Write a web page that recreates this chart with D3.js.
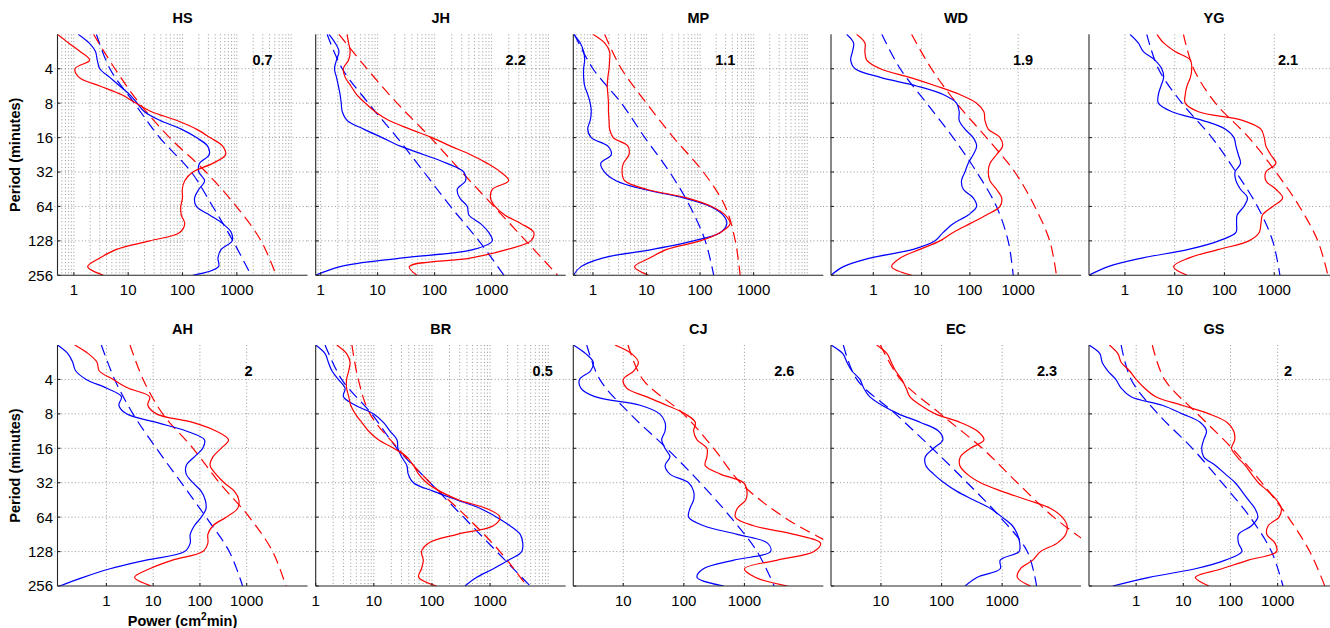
<!DOCTYPE html>
<html>
<head>
<meta charset="utf-8">
<script src="https://cdn.jsdelivr.net/npm/d3@7/dist/d3.min.js"></script>
<style>
  body { margin: 0; background: #fff; }
  svg text { font-family: "Liberation Sans", Arial, Helvetica, sans-serif; fill: #000; }
</style>
</head>
<body>
<svg id="fig" width="1330" height="628"></svg>
<script>
// Station codes, in panel order (top row, then bottom row)
const stations = ["HS", "JH", "MP", "WD", "YG", "AH", "BR", "CJ", "EC", "GS"];
// Number printed in the corner of each panel
const exponents = ["0.7", "2.2", "1.1", "1.9", "2.1", "2", "0.5", "2.6", "2.3", "2"];

// Period grid (minutes) of the measured spectra, quarter-octave spacing
const periods = [2, 2.38, 2.83, 3.36, 4, 4.76, 5.66, 6.73, 8, 9.51, 11.3, 13.5, 16, 19, 22.6, 26.9,
                 32, 38.1, 45.3, 53.8, 64, 76.1, 90.5, 108, 128, 152, 181, 215, 256];
// Period grid of the fitted (dashed) spectra
const fitPeriods = [2, 4, 8, 16, 32, 64, 128, 256];

const periodTicks = [4, 8, 16, 32, 64, 128, 256];
const powerTicks = [1, 10, 100, 1000];
const powerMax = 20000;
// Panels drawn with a minor power grid
const denseGrid = ["HS", "JH", "MP", "BR"];

// Power (cm^2 min) at each entry of `periods`
const hsBlue = [1.2, 1.9, 2.5, 2.7, 3.0, 4.6, 7, 10.7, 14.6, 20, 38, 95, 180, 290, 310, 205, 200, 255, 200, 167, 180, 315, 550, 790, 820, 515, 450, 460, 155];
const hsRed  = [0.5, 0.8, 1.3, 1.95, 1.05, 1.25, 3.0, 7.5, 14, 27, 77, 180, 320, 550, 620, 360, 155, 110, 99, 100, 93, 95, 110, 89, 25, 6.1, 3.0, 1.8, 3.5];
const jhBlue = [1.4, 1.8, 2.1, 1.9, 1.75, 1.9, 2.05, 2.2, 2.3, 2.4, 2.9, 5.7, 12, 25, 65, 165, 325, 350, 250, 275, 375, 400, 640, 890, 1030, 490, 25, 2.2, 0.82];
const jhRed  = [2.9, 3.1, 3.3, 3.1, 2.5, 2.7, 3.4, 4.3, 6.1, 9.1, 15.6, 37, 90, 190, 430, 840, 1440, 2000, 1030, 960, 1150, 1700, 3300, 5500, 4900, 1900, 420, 36, 49];
const mpBlue = [0.43, 0.58, 0.67, 0.7, 0.67, 0.67, 0.7, 0.8, 0.89, 0.93, 0.89, 0.8, 0.93, 1.9, 2.2, 1.4, 1.65, 2.7, 8.7, 49, 155, 270, 316, 240, 75, 13, 1.5, 0.6, 0.43];
const mpRed  = [1.0, 1.65, 2.05, 2.05, 2.0, 1.9, 1.85, 1.9, 1.95, 1.95, 2.0, 2.05, 2.4, 4.5, 4.7, 3.7, 3.5, 3.9, 10, 56, 165, 295, 365, 240, 100, 24, 11.5, 6, 11];
const wdBlue = [0.28, 0.39, 0.37, 0.34, 0.42, 1.4, 7.9, 28, 53, 60, 60, 79, 117, 138, 117, 92, 79, 67, 73, 117, 138, 92, 45, 28, 19, 6.7, 0.85, 0.24, 0.133];
const wdRed  = [0.45, 0.67, 0.67, 0.73, 1.4, 5.7, 20, 62, 138, 195, 205, 240, 420, 475, 355, 260, 240, 260, 355, 455, 420, 220, 100, 45, 24, 9.2, 3.6, 2.4, 6.2];
const ygBlue = [1.26, 1.86, 2.35, 4.0, 5.5, 6, 5.3, 4.7, 4.7, 8.8, 36, 105, 155, 170, 190, 210, 163, 170, 210, 290, 245, 180, 175, 170, 77, 19, 2.2, 0.46, 0.19];
const ygRed  = [4.4, 6, 10.2, 20.7, 22, 20.7, 17.7, 16.3, 16.3, 30, 230, 540, 630, 680, 850, 1080, 680, 680, 1080, 1480, 930, 580, 540, 500, 310, 77, 19, 9.5, 17.7];
const ahBlue = [0.09, 0.15, 0.19, 0.22, 0.37, 1.0, 2.1, 1.85, 2.7, 11.7, 51, 125, 115, 76, 51, 51, 71, 107, 130, 135, 107, 76, 62, 62, 47, 7.1, 1.2, 0.32, 0.1];
const ahRed  = [0.21, 0.41, 0.63, 0.7, 1.4, 2.9, 8.4, 7.7, 11.7, 70, 220, 410, 285, 190, 165, 220, 330, 550, 680, 640, 365, 190, 148, 148, 115, 26, 8.4, 4.0, 9.1];
const brBlue = [1.0, 1.45, 1.65, 1.9, 2.45, 3.2, 3.0, 4.8, 9.8, 14.6, 19, 25, 26, 30, 37, 39, 48, 107, 270, 680, 1300, 2200, 3300, 3650, 3500, 2100, 1140, 590, 370];
const brRed  = [2.3, 3.4, 3.9, 3.7, 3.4, 3.4, 3.7, 4.0, 4.8, 6.2, 8.1, 12, 22, 37, 48, 59, 81, 138, 290, 870, 1480, 1140, 270, 87, 66, 71, 66, 59, 120];
const cjBlue = [1.5, 2.4, 3.2, 2.9, 1.9, 2.0, 3.4, 19, 40, 49, 49, 43, 49, 59, 49, 59, 120, 145, 145, 126, 120, 213, 760, 2400, 2700, 670, 210, 165, 455];
const cjRed  = [7.3, 13.7, 17.8, 15, 10, 11.4, 24, 52, 105, 155, 145, 165, 240, 240, 225, 400, 970, 1100, 1050, 760, 710, 1420, 6600, 18000, 14000, 3500, 1000, 1500, 5100];
const ecBlue = [1.5, 2.35, 2.75, 3.3, 4.5, 5.2, 6.5, 10.4, 19.5, 45, 89, 105, 74, 54, 55, 74, 110, 180, 340, 640, 1000, 1480, 1780, 1950, 1900, 930, 930, 390, 245];
const ecRed  = [8.5, 12.6, 14.8, 17.4, 22, 26, 30, 45, 79, 205, 390, 500, 300, 205, 200, 265, 440, 1000, 2600, 6300, 9800, 11800, 11200, 8100, 4300, 3200, 2000, 1780, 2950];
const gsBlue = [0.1, 0.17, 0.19, 0.25, 0.37, 0.48, 0.78, 3.6, 9.5, 23, 31, 27, 24.5, 27, 48, 78, 126, 175, 240, 330, 380, 280, 148, 148, 175, 78, 18, 1.9, 0.32];
const gsRed  = [0.27, 0.41, 0.48, 0.72, 1.0, 1.5, 2.6, 9.5, 35, 85, 117, 123, 105, 138, 205, 280, 390, 630, 950, 1200, 1070, 630, 590, 880, 950, 240, 66, 18, 35];

// Fitted spectra at each entry of `fitPeriods`
const hsBlueFit = [2.6, 4.6, 13, 38, 145, 360, 850, 1830];
const hsRedFit  = [2.3, 5.7, 16, 58, 270, 980, 2800, 5300];
const jhBlueFit = [1.3, 2.4, 6.9, 22, 65, 190, 600, 1650];
const jhRedFit  = [2.1, 6.5, 22, 85, 300, 1100, 4000, 14500];
const mpBlueFit = [0.45, 1.0, 3.4, 9.3, 27, 65, 125, 180];
const mpRedFit  = [1.65, 3.4, 10, 32, 115, 295, 455, 560];
const wdBlueFit = [1.5, 3.6, 12.7, 45, 138, 355, 620, 790];
const wdRedFit  = [6.2, 16, 53, 220, 850, 2200, 4500, 6200];
const ygBlueFit = [2.75, 4.7, 14, 56, 170, 460, 930, 1300];
const ygRedFit  = [15, 24, 66, 310, 1080, 3200, 7500, 12000];
const ahBlueFit = [0.78, 1.5, 3.7, 11.7, 40, 135, 425, 820];
const ahRedFit  = [3.2, 6.1, 16, 71, 260, 1140, 3600, 6900];
const brBlueFit = [1.45, 2.8, 9.2, 25, 93, 350, 1300, 4900];
const brRedFit  = [4.2, 5.4, 8.6, 26, 93, 400, 1480, 4300];
const cjBlueFit = [2.5, 4.1, 13, 52, 186, 590, 1620, 3100];
const cjRedFit  = [12, 21, 98, 310, 860, 4500, 45000, 300000];
const ecBlueFit = [2.4, 4.0, 17.4, 70, 265, 930, 2600, 3700];
const ecRedFit  = [9.8, 21, 96, 470, 1780, 7100, 40000, 200000];
const gsBlueFit = [0.48, 0.78, 2.9, 15.5, 66, 260, 740, 1300];
const gsRedFit  = [2.2, 4.0, 20, 108, 460, 1670, 4800, 10000];

const spectra = {
  HS: [hsBlue, hsRed, hsBlueFit, hsRedFit],
  JH: [jhBlue, jhRed, jhBlueFit, jhRedFit],
  MP: [mpBlue, mpRed, mpBlueFit, mpRedFit],
  WD: [wdBlue, wdRed, wdBlueFit, wdRedFit],
  YG: [ygBlue, ygRed, ygBlueFit, ygRedFit],
  AH: [ahBlue, ahRed, ahBlueFit, ahRedFit],
  BR: [brBlue, brRed, brBlueFit, brRedFit],
  CJ: [cjBlue, cjRed, cjBlueFit, cjRedFit],
  EC: [ecBlue, ecRed, ecBlueFit, ecRedFit],
  GS: [gsBlue, gsRed, gsBlueFit, gsRedFit]
};

// ---- layout ----
const colX = [57.5, 315.7, 573.3, 831, 1089];
const rowY = [34.3, 345];
const panelW = 250, panelH = 241;
const noteDx = [205, 200, 152, 192, 199, 191, 227, 211, 216, 199];
const BLUE = "#0000ff", RED = "#ff0000";
const GRID = "#8c8c8c", AXIS = "#262626";

const svg = d3.select("#fig");
svg.append("rect").attr("width", 1330).attr("height", 628).attr("fill", "#fff");

stations.forEach((name, i) => {
  const col = i % 5, row = Math.floor(i / 5);
  const [blue, red, blueFit, redFit] = spectra[name];
  const powerMin = d3.min(blue.concat(red));

  const x = d3.scaleLog().domain([powerMin, powerMax]).range([0, panelW]);
  const y = d3.scaleLog().base(2).domain([2, 256]).range([0, panelH]);

  const g = svg.append("g").attr("transform", `translate(${colX[col]},${rowY[row]})`);

  const clipId = "clip-" + name;
  g.append("clipPath").attr("id", clipId)
    .append("rect").attr("x", 0).attr("y", 0).attr("width", panelW).attr("height", panelH);

  // grid
  const grid = g.append("g").attr("stroke", GRID).attr("stroke-width", 0.9)
    .attr("stroke-dasharray", "1,2.4").attr("fill", "none");
  const majors = powerTicks.filter(v => v >= powerMin && v <= powerMax);
  let verticals = majors.slice();
  if (denseGrid.includes(name)) {
    verticals = [];
    for (let e = -2; e <= 4; e++) {
      for (let m = 1; m <= 9; m++) {
        const v = m * Math.pow(10, e);
        if (v > powerMin * 1.001 && v < powerMax * 0.999) verticals.push(v);
      }
    }
  }
  grid.selectAll("line.v").data(verticals).join("line").attr("class", "v")
    .attr("x1", d => x(d)).attr("x2", d => x(d)).attr("y1", 0).attr("y2", panelH);
  grid.selectAll("line.h").data(periodTicks.filter(p => p < 256)).join("line").attr("class", "h")
    .attr("x1", col === 0 ? -3 : -8).attr("x2", panelW).attr("y1", d => y(d)).attr("y2", d => y(d));

  // curves
  const line = d3.line()
    .x(d => x(d[1])).y(d => y(d[0]))
    .curve(d3.curveCatmullRom.alpha(0.5));
  const curves = g.append("g").attr("clip-path", `url(#${clipId})`).attr("fill", "none");
  const pair = (ps, vs) => ps.map((p, k) => [p, vs[k]]);

  curves.append("path").attr("d", line(pair(fitPeriods, blueFit)))
    .attr("stroke", BLUE).attr("stroke-width", 1.2).attr("stroke-dasharray", "11,6");
  curves.append("path").attr("d", line(pair(fitPeriods, redFit)))
    .attr("stroke", RED).attr("stroke-width", 1.2).attr("stroke-dasharray", "11,6");
  curves.append("path").attr("d", line(pair(periods, blue)))
    .attr("stroke", BLUE).attr("stroke-width", 1.2);
  curves.append("path").attr("d", line(pair(periods, red)))
    .attr("stroke", RED).attr("stroke-width", 1.2);

  // axes (left and bottom)
  const ax = g.append("g").attr("stroke", AXIS).attr("stroke-width", 1.1);
  ax.append("line").attr("x1", 0).attr("x2", 0).attr("y1", 0).attr("y2", panelH);
  ax.append("line").attr("x1", 0).attr("x2", panelW).attr("y1", panelH).attr("y2", panelH);
  ax.selectAll("line.yt").data(periodTicks).join("line").attr("class", "yt")
    .attr("x1", 0).attr("x2", 3).attr("y1", d => y(d)).attr("y2", d => y(d));
  ax.selectAll("line.xt").data(majors).join("line").attr("class", "xt")
    .attr("x1", d => x(d)).attr("x2", d => x(d)).attr("y1", panelH).attr("y2", panelH - 3);

  // power tick labels
  g.selectAll("text.xl").data(majors).join("text").attr("class", "xl")
    .attr("x", d => x(d)).attr("y", panelH + 19.5)
    .attr("text-anchor", "middle").attr("font-size", 15)
    .text(d => d3.format("d")(d));

  // period tick labels and axis title on the first column
  if (col === 0) {
    g.selectAll("text.yl").data(periodTicks).join("text").attr("class", "yl")
      .attr("x", -4.5).attr("y", d => y(d)).attr("dy", "0.36em")
      .attr("text-anchor", "end").attr("font-size", 15)
      .text(d => d);
    g.append("text")
      .attr("transform", `translate(${15 - colX[0]},${panelH / 2}) rotate(-90)`)
      .attr("dy", "0.36em")
      .attr("text-anchor", "middle").attr("font-size", 14.5).attr("font-weight", "bold")
      .text("Period (minutes)");
  }

  // panel title
  g.append("text").attr("x", panelW / 2).attr("y", -11)
    .attr("text-anchor", "middle").attr("font-size", 14.5).attr("font-weight", "bold")
    .text(name);

  // exponent note
  g.append("text").attr("x", noteDx[i]).attr("y", 31)
    .attr("text-anchor", "middle").attr("font-size", 14.5).attr("font-weight", "bold")
    .text(exponents[i]);

  // power axis title under the first panel of the bottom row
  if (i === 5) {
    const t = g.append("text").attr("x", panelW / 2).attr("y", panelH + 39.5)
      .attr("text-anchor", "middle").attr("font-size", 14.5).attr("font-weight", "bold");
    t.append("tspan").text("Power (cm");
    t.append("tspan").attr("font-size", 10).attr("dy", -6).text("2");
    t.append("tspan").attr("dy", 6).text("min)");
  }
});
</script>
</body>
</html>
